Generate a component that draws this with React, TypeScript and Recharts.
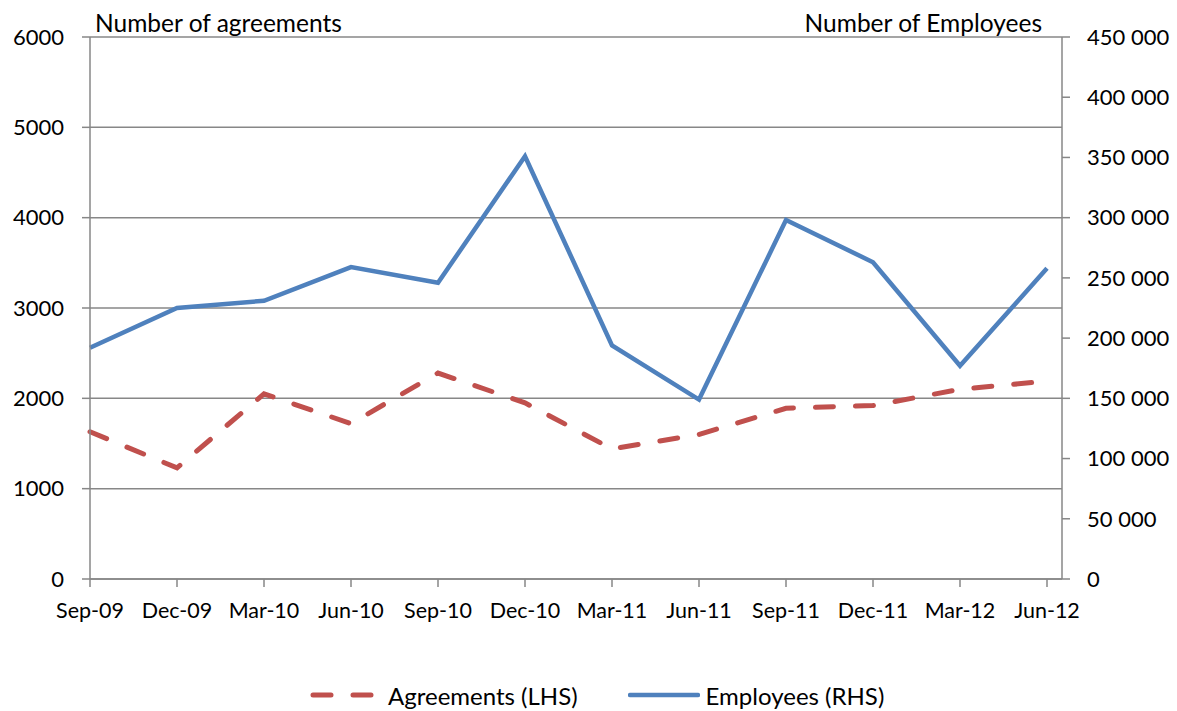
import React from 'react';
import { LineChart, Line, XAxis, YAxis, CartesianGrid, Legend } from 'recharts';

const categories = ['Sep-09', 'Dec-09', 'Mar-10', 'Jun-10', 'Sep-10', 'Dec-10', 'Mar-11', 'Jun-11', 'Sep-11', 'Dec-11', 'Mar-12', 'Jun-12'];
const agreements = [1630, 1230, 2050, 1720, 2280, 1950, 1440, 1600, 1890, 1920, 2100, 2190];
const employees = [192000, 225000, 231000, 259000, 246000, 351000, 194000, 149000, 298000, 263000, 177000, 258000];
const leftTicks = [0, 1000, 2000, 3000, 4000, 5000, 6000];
const rightTicks = [0, 50000, 100000, 150000, 200000, 250000, 300000, 350000, 400000, 450000];

const data = categories.map((c, i) => ({ period: c, agreements: agreements[i], employees: employees[i] }));

const FONT = 'Lato, "Open Sans", sans-serif';
const RED = '#C0504D';
const BLUE = '#4F81BD';
const AXIS = '#878787';

const fmtRight = (v: number) => {
  if (v === 0) return '0';
  const s = String(v);
  return s.slice(0, s.length - 3) + ' ' + s.slice(s.length - 3);
};

const LegendContent = () => (
  <div style={{ display: 'flex', alignItems: 'center', paddingLeft: 310, fontFamily: FONT, fontSize: 24, color: '#000', height: 30 }}>
    <svg width={64} height={10} style={{ marginRight: 14 }}>
      <line x1={3} y1={5} x2={61} y2={5} stroke={RED} strokeWidth={5} strokeLinecap="round" strokeDasharray="18 22" />
    </svg>
    <span>Agreements (LHS)</span>
    <svg width={72} height={10} style={{ marginLeft: 50, marginRight: 6 }}>
      <line x1={2} y1={5} x2={70} y2={5} stroke={BLUE} strokeWidth={4.5} strokeLinecap="round" />
    </svg>
    <span>Employees (RHS)</span>
  </div>
);

export default function App() {
  return (
    <div style={{ position: 'absolute', left: 0, top: 0, background: '#fff' }}>
      <LineChart width={1177} height={711} data={data} margin={{ top: 37, right: 0, bottom: 92, left: 0 }}>
        <CartesianGrid yAxisId="left" vertical={false} stroke={AXIS} strokeWidth={1.5} />
        <XAxis
          dataKey="period"
          padding={{ left: 0, right: 15 }}
          height={40}
          tickSize={8}
          tickMargin={16}
          interval={0}
          stroke={AXIS}
          strokeWidth={1.5}
          tick={{ fill: '#000', fontSize: 21.5, fontFamily: FONT }}
        />
        <YAxis
          yAxisId="left"
          width={90}
          domain={[0, 6000]}
          ticks={leftTicks}
          interval={0}
          tickSize={8}
          tickMargin={18}
          stroke={AXIS}
          strokeWidth={1.5}
          tick={{ fill: '#000', fontSize: 22, fontFamily: FONT }}
          label={{
            content: (p: any) => (
              <text x={p.viewBox.x + p.viewBox.width + 5} y={p.viewBox.y - 5} fill="#000" fontSize={24.5} fontFamily={FONT} textAnchor="start">
                Number of agreements
              </text>
            ),
          }}
        />
        <YAxis
          yAxisId="right"
          orientation="right"
          width={115}
          domain={[0, 450000]}
          ticks={rightTicks}
          interval={0}
          tickSize={8}
          tickMargin={17}
          stroke={AXIS}
          strokeWidth={1.5}
          tickFormatter={fmtRight}
          tick={{ fill: '#000', fontSize: 22, fontFamily: FONT }}
          label={{
            content: (p: any) => (
              <text x={p.viewBox.x - 20} y={p.viewBox.y - 5} fill="#000" fontSize={24.5} fontFamily={FONT} textAnchor="end">
                Number of Employees
              </text>
            ),
          }}
        />
        <Legend layout="horizontal" verticalAlign="middle" align="center" wrapperStyle={{ top: 680, left: 0, width: 1177 }} content={LegendContent} />
        <Line
          yAxisId="left"
          dataKey="agreements"
          name="Agreements (LHS)"
          stroke={RED}
          strokeWidth={5}
          strokeDasharray="18 22"
          strokeLinecap="round"
          dot={false}
          activeDot={false}
          isAnimationActive={false}
        />
        <Line
          yAxisId="right"
          dataKey="employees"
          name="Employees (RHS)"
          stroke={BLUE}
          strokeWidth={4.5}
          dot={false}
          activeDot={false}
          isAnimationActive={false}
        />
      </LineChart>
    </div>
  );
}
